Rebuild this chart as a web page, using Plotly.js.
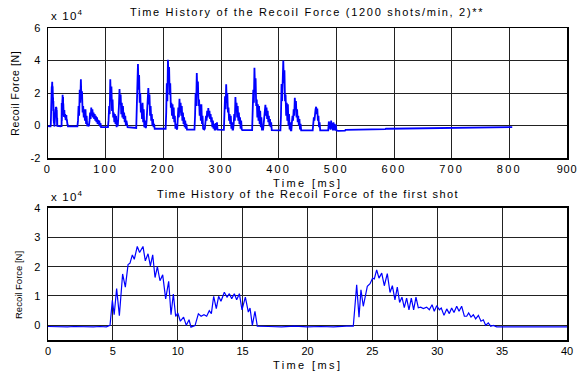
<!DOCTYPE html>
<html>
<head>
<meta charset="utf-8">
<script src="https://cdn.plot.ly/plotly-3.0.1.min.js"></script>
<style>
  html, body { margin: 0; padding: 0; background: #fff; }
  #chart { width: 577px; height: 376px; }
  .xtick text { letter-spacing: 2.2px; }
</style>
</head>
<body>
<div id="chart"></div>
<script>
// Recoil force of the first shot, in units of 1e4 N, against time in ms.
const shotTime = [
  0, 0.5, 1, 1.5, 2, 2.5, 3, 3.5, 4, 4.5, 4.78, 4.96, 5.1, 5.29, 5.5, 5.75, 5.96, 6.17, 6.32, 6.5,
  6.65, 6.88, 7.06, 7.32, 7.5, 7.71, 7.89, 8.07, 8.25, 8.43, 8.63, 8.84, 9.07, 9.3, 9.48, 9.66,
  9.84, 10.0, 10.2, 10.45, 10.66, 10.87, 11.02, 11.33, 11.59, 11.8, 12.02, 12.23, 12.43, 12.59,
  12.77, 12.97, 13.15, 13.33, 13.59, 13.8, 13.98, 14.16, 14.36, 14.54, 14.75, 14.95, 15.21, 15.44,
  15.57, 15.75, 15.95, 16.13, 17, 18, 19, 20, 21, 22, 23, 23.53, 23.79, 23.97, 24.12, 24.3, 24.61,
  24.82, 25.02, 25.15, 25.33, 25.51, 25.72, 25.92, 26.15, 26.36, 26.54, 26.74, 26.92, 27.1, 27.28,
  27.46, 27.64, 27.82, 28.0, 28.18, 28.36, 28.54, 28.72, 28.93, 29.18, 29.39, 29.6, 29.77, 29.96,
  30.16, 30.31, 30.52, 30.73, 30.93, 31.11, 31.29, 31.5, 31.68, 31.88, 32.09, 32.27, 32.42, 32.6,
  32.78, 32.96, 33.17, 33.37, 33.55, 33.73, 33.93, 34.12, 34.32, 34.58, 36, 38, 40
];
const shotForce = [
  -0.04, -0.05, -0.04, -0.05, -0.04, -0.05, -0.04, -0.05, -0.04, -0.05, 0, 0.85, 0.36, 1.25, 0.33, 1.75, 1.3, 2.07, 2.12, 2.4,
  2.25, 2.69, 2.48, 2.69, 2.2, 2.44, 2.03, 2.4, 1.63, 2.0, 1.52, 1.72, 0.9, 1.5, 0.36, 1.07,
  0.3, 0.42, 0.14, 0.28, 0.0, 0.19, -0.06, -0.01, 0.39, 0.31, 0.36, 0.31, 0.5, 0.4,
  0.99, 0.57, 0.99, 0.82, 1.13, 0.96, 1.08, 0.91, 1.08, 0.87, 1.08, 0.53, 0.96, 0.45,
  0.59, 0, 0.48, -0.03, -0.04, -0.05, -0.03, -0.05, -0.04, -0.05, -0.03, -0.03, 1.38, 0.28, 1.21, 0.65, 1.33,
  1.42, 1.61, 1.58, 1.89, 1.61, 1.78, 1.35, 1.76, 1.12, 1.35, 0.87, 1.3, 0.78, 0.96,
  0.6, 0.93, 0.53, 0.93, 0.53, 0.96, 0.6, 0.62, 0.57, 0.62, 0.53, 0.7, 0.48, 0.67,
  0.53, 0.59, 0.34, 0.56, 0.4, 0.59, 0.44, 0.65, 0.48, 0.65, 0.31, 0.31, 0.42, 0.28,
  0.36, 0.22, 0.34, 0.14, 0.19, 0, 0.08, -0.03, 0, -0.05, -0.05, -0.05, -0.05
];

// Following shots of the burst (1200 shots/min), sampled every 1 ms from each start time.
const SAMPLE_MS = 1;
const burstStart = [51, 104, 153, 204, 254, 305, 354, 403, 459, 486];
const burstForce = [
  [-0.05, 0.3, 1.2, 0.6, 2.2, 1.4, 2.85, 1.6, 2.1, 0.8, 1.2, 0.5, 1.0, 0.3, 1.0, 0.1, 0.6, -0.05, 0.1, -0.05,
   0.0, 0.3, 0.8, 0.4, 1.1, 0.6, 1.0, 0.5, 0.8, 0.4, 0.7, 0.3, 0.6, 0.2, 0.5, 0.1, 0.35, 0.05, 0.3, -0.05, 0.15, -0.1],
  [-0.1, 0.3, 1.2, 0.7, 2.85, 1.5, 2.4, 0.9, 1.6, 0.5, 0.8, 0.2, 0.7, 0.1, 0.6, -0.1, 0.2, -0.05, 0.4, 1.2,
   2.25, 1.3, 1.9, 0.7, 1.4, 0.5, 1.2, 0.4, 0.8, 0.2, 0.6, 0.0, 0.3, -0.1, -0.1],
  [-0.15, 0.8, 2.4, 3.78, 2.2, 3.1, 1.4, 2.0, 0.8, 1.3, 0.4, 1.4, 0.2, 1.0, -0.1, 0.3, -0.15, -0.1, 0.3, 1.2,
   1.7, 2.3, 1.3, 1.9, 0.6, 1.2, 0.3, 0.7, 0.0, 0.4, -0.1, 0.1, -0.2],
  [-0.2, 0.8, 2.6, 1.5, 4.05, 2.8, 3.6, 1.9, 2.6, 1.1, 1.4, 0.6, 1.3, 0.4, 1.1, 0.2, 0.6, -0.2, 0.1, -0.2,
   -0.25, 0.4, 1.1, 0.5, 1.64, 0.8, 1.4, 0.6, 1.2, 0.3, 0.8, 0.1, 0.5, -0.1, 0.3, -0.2, 0.1, -0.25],
  [-0.25, 0.6, 2.0, 1.2, 3.23, 2.0, 2.7, 1.2, 1.6, 0.6, 1.3, 0.3, 1.3, 0.1, 0.6, -0.2, -0.25, -0.25, -0.2, 0.2,
   0.6, 0.3, 0.9, 0.5, 1.08, 0.6, 0.9, 0.4, 0.7, 0.2, 0.5, -0.1, 0.3, -0.2, 0.1, -0.25, -0.25, 0.15, -0.25, 0.2, -0.25],
  [-0.27, 0.4, 1.8, 1.0, 2.54, 1.4, 2.0, 0.8, 1.1, 0.3, 0.7, 0.1, 0.6, -0.2, 0.2, -0.25, -0.25, 0.1, 0.7, 0.3,
   1.75, 0.9, 1.4, 0.5, 1.2, 0.3, 0.8, 0.1, 0.5, -0.2, 0.3, -0.25, -0.28],
  [-0.28, 0.5, 2.2, 1.4, 3.55, 2.2, 2.9, 1.2, 1.6, 0.5, 1.3, 0.3, 1.2, 0.1, 0.9, -0.1, 0.5, -0.25, -0.28, -0.25,
   0.1, 0.5, 0.7, 1.28, 0.6, 1.1, 0.4, 0.9, 0.2, 0.6, 0.0, 0.4, -0.1, 0.2, -0.28],
  [-0.3, 0.6, 2.55, 1.5, 2.7, 4.0, 2.6, 3.4, 1.5, 1.9, 0.6, 1.4, 0.3, 1.3, 0.0, 0.7, -0.25, 0.2, -0.3, -0.3,
   0.2, 0.6, 0.3, 1.0, 0.6, 1.7, 1.0, 1.5, 0.5, 1.0, 0.2, 0.6, 0.0, 0.4, -0.25, 0.1, -0.3],
  [-0.3, 0.1, 0.5, 0.3, 0.9, 1.0, 1.15, 0.7, 1.05, 0.3, 0.6, -0.1, 0.2, -0.3],
  [-0.3, 0.25, -0.2, 0.2, -0.25, 0.3, -0.2, 0.15, -0.3, 0.2, -0.3, 0.1, -0.3, 0.05, -0.3]
];

// Settling after the last shot.
const tailTime = [503, 515, 516, 585, 586, 590, 680, 690, 800, 805];
const tailForce = [-0.33, -0.32, -0.27, -0.22, -0.2, -0.2, -0.15, -0.13, -0.1, -0.1];

// Tick values of both panels.
const historyTicksX = [0, 100, 200, 300, 400, 500, 600, 700, 800, 900];
const historyTicksY = [-2, 0, 2, 4, 6];
const shotTicksX = [0, 5, 10, 15, 20, 25, 30, 35, 40];
const shotTicksY = [0, 1, 2, 3, 4];

// Assemble the whole firing history: first shot, following shots, then tail.
const historyTime = [];
const historyForce = [];
shotTime.forEach((t, i) => { if (t <= 40) { historyTime.push(t); historyForce.push(shotForce[i]); } });
burstStart.forEach((t0, b) => {
  burstForce[b].forEach((v, i) => { historyTime.push(t0 + i * SAMPLE_MS); historyForce.push(v); });
});
tailTime.forEach((t, i) => { historyTime.push(t); historyForce.push(tailForce[i]); });

const BLUE = '#0000ff';
const FONT = 'Arial, "Liberation Sans", sans-serif';

const traces = [
  { x: historyTime, y: historyForce, type: 'scatter', mode: 'lines',
    line: { color: BLUE, width: 1.8 }, xaxis: 'x', yaxis: 'y', hoverinfo: 'skip' },
  { x: shotTime, y: shotForce, type: 'scatter', mode: 'lines',
    line: { color: BLUE, width: 1.2 }, xaxis: 'x2', yaxis: 'y2', hoverinfo: 'skip' }
];

const axisBase = {
  showline: true, mirror: true, linecolor: '#000', linewidth: 1.5,
  showgrid: true, gridcolor: '#222', gridwidth: 1,
  zeroline: false, ticks: '', tickfont: { family: FONT, size: 11, color: '#000' },
  tickmode: 'array', fixedrange: true, ticklabeloverflow: 'allow'
};

const spaced = (s, px) => '<span style="letter-spacing:' + px + 'px">' + s + '</span>';

// The last label sits on the right edge of the page, so it is drawn a little tighter.
const historyTickText = historyTicksX.map((v, i) =>
  i === historyTicksX.length - 1 ? spaced(String(v), 0.8) : String(v));

const ann = (text, x, y, opts) => Object.assign({
  text, x, y, xref: 'paper', yref: 'paper', showarrow: false,
  xanchor: 'center', yanchor: 'middle', font: { family: FONT, size: 11, color: '#000' }
}, opts || {});

const scaleLabel = spaced('x 10<sup>4</sup>', 1.2);

const layout = {
  width: 577, height: 376,
  margin: { l: 48, r: 10, t: 28, b: 36, pad: 0 },
  paper_bgcolor: '#fff', plot_bgcolor: '#fff',
  showlegend: false,
  xaxis: Object.assign({}, axisBase, { domain: [0, 1], range: [0, 900], tickvals: historyTicksX,
    ticktext: historyTickText, anchor: 'y' }),
  yaxis: Object.assign({}, axisBase, { domain: [0.5833, 1], range: [-2, 6], tickvals: historyTicksY,
    ticktext: historyTicksY.map(String), anchor: 'x', ticklabelstandoff: 4 }),
  xaxis2: Object.assign({}, axisBase, { domain: [0, 1], range: [0, 40], tickvals: shotTicksX,
    ticktext: shotTicksX.map(String), anchor: 'y2' }),
  yaxis2: Object.assign({}, axisBase, { domain: [0, 0.4231], range: [-0.5, 4], tickvals: shotTicksY,
    ticktext: shotTicksY.map(String), anchor: 'x2', ticklabelstandoff: 4 }),
  annotations: [
    ann(spaced('Time History of the Recoil Force (1200 shots/min, 2)**', 1.7), 0.499, 1.051),
    ann(scaleLabel, 0.002, 1.042, { xanchor: 'left', font: { family: FONT, size: 11.5, color: '#000' } }),
    ann(spaced('Time [ms]', 2.4), 0.5, 0.503),
    ann(spaced('Recoil Force [N]', 0.6), -0.064, 0.792, { textangle: -90, font: { family: FONT, size: 10.5, color: '#000' } }),
    ann(spaced('Time History of the Recoil Force of the first shot', 1.4), 0.5, 0.468),
    ann(scaleLabel, 0.002, 0.462, { xanchor: 'left', font: { family: FONT, size: 11.5, color: '#000' } }),
    ann(spaced('Time [ms]', 2.4), 0.5, -0.080),
    ann('Recoil Force [N]', -0.058, 0.176, { textangle: -90, font: { family: FONT, size: 9.5, color: '#000' } })
  ]
};

Plotly.newPlot('chart', traces, layout, { staticPlot: true, displayModeBar: false });
</script>
</body>
</html>
